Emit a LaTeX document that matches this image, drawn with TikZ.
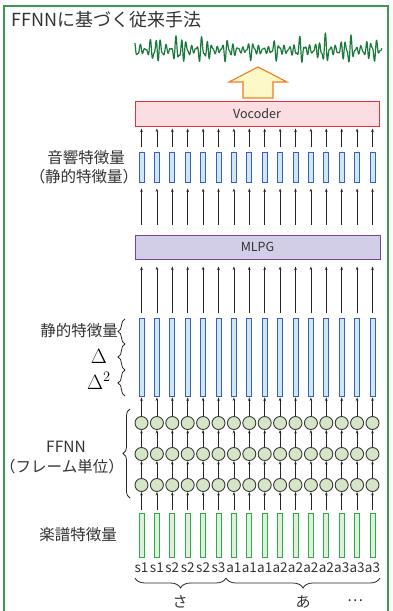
\documentclass[tikz,border=0pt]{standalone}
\usepackage{fontspec}
\setmainfont{Noto Sans CJK JP}
\usetikzlibrary{arrows.meta,decorations.pathreplacing}
\definecolor{framegreen}{HTML}{3A9B4F}
\definecolor{txt}{HTML}{333333}
\definecolor{wavegreen}{HTML}{1A7A3C}
\definecolor{arrline}{HTML}{F47B20}
\definecolor{arrfill}{HTML}{FDF8C8}
\definecolor{vocfill}{HTML}{FCDDE1}
\definecolor{vocline}{HTML}{E8303A}
\definecolor{mlpgfill}{HTML}{D2CEE8}
\definecolor{mlpgline}{HTML}{7B3F9C}
\definecolor{bluefill}{HTML}{CCE8F4}
\definecolor{blueline}{HTML}{3F5DB8}
\definecolor{nfill}{HTML}{D4E6C6}
\definecolor{nline}{HTML}{3A3A3A}
\definecolor{gfill}{HTML}{DFF0D8}
\definecolor{gline}{HTML}{2EAA4E}
\begin{document}
\begin{tikzpicture}[x=1pt,y=-1pt,
  frame/.style={draw=framegreen,line width=1.4pt},
  title/.style={font=\fontsize{18}{18}\selectfont,text=txt,inner sep=0pt},
  lbl/.style={font=\fontsize{15.5}{17}\selectfont,text=txt,inner sep=0pt},
  sub/.style={font=\fontsize{13.5}{14}\selectfont,text=txt,inner sep=0pt},
  kana/.style={font=\fontsize{15}{15}\selectfont,text=txt,inner sep=0pt},
  procbox/.style={draw,line width=1pt,inner sep=0pt,font=\fontsize{12.5}{13}\selectfont,text=txt},
  bluebar/.style={draw=blueline,fill=bluefill,line width=0.9pt,minimum width=5,inner sep=0pt},
  greenbar/.style={draw=gline,fill=gfill,line width=0.9pt,minimum width=5,minimum height=44,inner sep=0pt},
  neuron/.style={circle,draw=nline,fill=nfill,line width=0.9pt,minimum size=13,inner sep=0pt},
  arr/.style={draw=black!85,line width=0.75pt,-{Stealth[length=3.5pt,width=2.6pt]}},
  brc/.style={draw=black!85,line width=0.8pt,decorate,decoration={brace,amplitude=7pt}},
  bbrc/.style={draw=black!85,line width=0.8pt,decorate,decoration={brace,amplitude=10pt}},
  declare function={env(\t)=(0.3+0.7*abs(sin(\t*7.5))^2)*(0.8+0.2*sin(\t*2.3+40));
    osc(\t)=0.55*sin(70*mod(\t,5.1428571))+0.3*sin(113*mod(\t,3.1858407)+30)+0.15*sin(41*mod(\t,8.7804878)+70);}
]
\useasboundingbox (0,0) rectangle (392,611);
\fill[white] (0,0) rectangle (392,611);
\draw[frame] (4,611) -- (4,6) -- (388,6) -- (388,611);
\node[title,anchor=west] (title) at (11,20) {FFNNに基づく従来手法};
% waveform
\draw[wavegreen,line width=1.2pt,line join=round]
  plot[domain=135:382,samples=700] (\x,{50-18*env(\x)*osc(\x)});
% block arrow
\draw[draw=arrline,fill=arrfill,line width=1.1pt,line join=miter]
  (243,98) -- (243,82) -- (229,82) -- (258,67) -- (287,82) -- (273,82) -- (273,98) -- cycle;
\node[procbox,draw=vocline,fill=vocfill,minimum width=244,minimum height=25] (voc) at (257,113.5) {Vocoder};
\node[procbox,draw=mlpgline,fill=mlpgfill,minimum width=245,minimum height=24] (mlpg) at (257.5,247) {MLPG};
\foreach \i/\lab in {0/s1,1/s1,2/s2,3/s2,4/s2,5/s3,6/a1,7/a1,8/a1,9/a2,10/a2,11/a2,12/a2,13/a3,14/a3,15/a3}{
  \pgfmathsetmacro\xx{141.5+15.4*\i}
  \node[bluebar,minimum height=30] (v\i) at (\xx,167) {};
  \node[bluebar,minimum height=78] (s\i) at (\xx,357) {};
  \node[neuron] (a\i) at (\xx,423) {};
  \node[neuron] (b\i) at (\xx,454) {};
  \node[neuron] (c\i) at (\xx,485) {};
  \node[greenbar] (g\i) at (\xx,535) {};
  \node[sub] (l\i) at (\xx,568) {\lab};
  \draw[arr,shorten <=5pt,shorten >=2pt] (v\i.north) -- (v\i.north |- voc.south);
  \draw[arr,shorten <=10pt,shorten >=6pt] (mlpg.north -| v\i.south) -- (v\i.south);
  \draw[arr,shorten <=5pt,shorten >=7pt] (s\i.north) -- (s\i.north |- mlpg.south);
  \draw[arr,shorten >=1pt] (a\i.north) -- (s\i.south);
  \draw[arr] (b\i.north) -- (a\i.south);
  \draw[arr] (c\i.north) -- (b\i.south);
  \draw[arr,shorten <=3pt] (g\i.north) -- (c\i.south);
}
% left labels
\node[lbl] (ac1) at (86,158) {音響特徴量};
\node[lbl] (ac2) at (84,177) {（静的特徴量）};
\coordinate (bs1) at (125,319);
\coordinate (bs2) at (125,344);
\coordinate (bs3) at (125,370);
\coordinate (bs4) at (125,396);
\draw[brc] (bs2) -- (bs1);
\draw[brc] (bs3) -- (bs2);
\draw[brc] (bs4) -- (bs3);
\node[lbl,anchor=east] (st) at (118,331) {静的特徴量};
\node[inner sep=0pt,anchor=east,font=\fontsize{21}{21}\selectfont] (d1) at (107,356) {$\Delta$};
\node[inner sep=0pt,anchor=west,font=\fontsize{21}{21}\selectfont] (d2) at (87,381) {$\Delta^2$};
\coordinate (bf1) at (130,409);
\coordinate (bf2) at (130,498);
\draw[brc] (bf2) -- (bf1);
\node[lbl] (ff1) at (66,447) {FFNN};
\node[lbl] (ff2) at (62,467) {（フレーム単位）};
\node[lbl] (sc) at (78,535) {楽譜特徴量};
\coordinate (bb1) at (135,578);
\coordinate (bb2) at (226,578);
\coordinate (bb3) at (380,578);
\draw[bbrc] (bb2) -- (bb1);
\draw[bbrc] (bb3) -- (bb2);
\node[kana] (sa) at (180,602) {さ};
\node[kana] (aa) at (303,602) {あ};
\node[kana] (dots) at (355,601) {…};
\end{tikzpicture}
\end{document}
